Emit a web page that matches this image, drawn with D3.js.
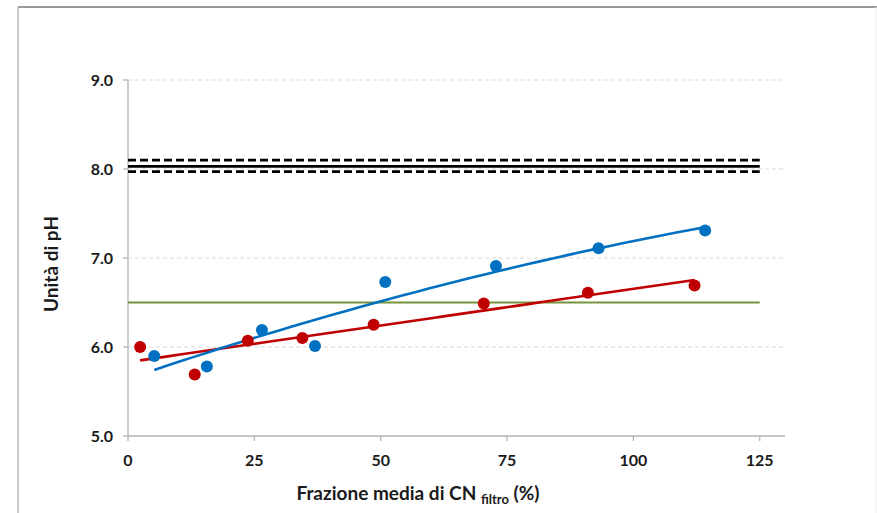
<!DOCTYPE html>
<head>
    <meta charset="utf-8">
    <title>pH vs frazione CN filtro</title>
    <script src="https://d3js.org/d3.v7.min.js"></script>
    <style>
        body{ margin: 0; background: #ffffff; }
        text{ font-family: Lato, "Open Sans", sans-serif; fill: #1a1a1a; }
        text.tickLabel{ font-size: 16px; font-weight: 700; }
        text.axisTitle{ font-size: 19px; font-weight: 700; }
        line.grid{ stroke: #d9d9d9; stroke-width: 1; stroke-dasharray: 4,3; }
        line.axisLine{ stroke: #b3b3b3; stroke-width: 1.3; }
    </style>
</head>
<body>
<script>
    // values
    var xTicks = [0, 25, 50, 75, 100, 125];
    var yTicks = [5, 6, 7, 8, 9];

    var blueX = [5.2, 15.6, 26.5, 37.0, 50.9, 72.8, 93.1, 114.2];
    var blueY = [5.90, 5.78, 6.19, 6.01, 6.73, 6.91, 7.11, 7.31];

    var redX = [2.4, 13.2, 23.7, 34.5, 48.6, 70.4, 91.0, 112.1];
    var redY = [6.00, 5.69, 6.07, 6.10, 6.25, 6.49, 6.61, 6.69];

    // horizontal reference lines (value, dashed?)
    var refValues = [8.10, 8.03, 7.97];
    var refDashed = [true, false, true];
    var greenLevel = 6.5;

    var width = 877, height = 513;

    var svg = d3.select("body").append("svg")
        .attr("width", width)
        .attr("height", height);

    // outer frame
    svg.append("line").attr("x1", 18).attr("x2", width).attr("y1", 7).attr("y2", 7)
        .style("stroke", "#9a9a9a").style("stroke-width", 2);
    svg.append("line").attr("x1", 18).attr("x2", 18).attr("y1", 7).attr("y2", height)
        .style("stroke", "#a6a6a6").style("stroke-width", 1.2);
    svg.append("line").attr("x1", 876).attr("x2", 876).attr("y1", 7).attr("y2", height)
        .style("stroke", "#ececec").style("stroke-width", 1);

    var x = d3.scaleLinear().domain([0, 130]).range([128, 785]);
    var y = d3.scaleLinear().domain([5, 9]).range([436, 80]);

    // gridlines
    svg.selectAll("line.grid")
        .data(yTicks.filter(d => d > 5))
        .enter()
        .append("line")
        .attr("class", "grid")
        .attr("x1", x(0)).attr("x2", x(130))
        .attr("y1", d => y(d)).attr("y2", d => y(d));

    // axes
    svg.append("line").attr("class", "axisLine")
        .attr("x1", x(0)).attr("x2", x(0)).attr("y1", y(9)).attr("y2", y(5));
    svg.append("line").attr("class", "axisLine")
        .attr("x1", x(0)).attr("x2", x(130)).attr("y1", y(5)).attr("y2", y(5));

    svg.selectAll("line.yTick")
        .data(yTicks).enter().append("line")
        .attr("class", "axisLine yTick")
        .attr("x1", x(0) - 5).attr("x2", x(0))
        .attr("y1", d => y(d)).attr("y2", d => y(d));

    svg.selectAll("line.xTick")
        .data(xTicks).enter().append("line")
        .attr("class", "axisLine xTick")
        .attr("x1", d => x(d)).attr("x2", d => x(d))
        .attr("y1", y(5)).attr("y2", y(5) + 5);

    svg.selectAll("text.yLab")
        .data(yTicks).enter().append("text")
        .attr("class", "tickLabel yLab")
        .attr("x", 113)
        .attr("y", d => y(d) + 6)
        .style("text-anchor", "end")
        .text(d => d3.format(".1f")(d));

    svg.selectAll("text.xLab")
        .data(xTicks).enter().append("text")
        .attr("class", "tickLabel xLab")
        .attr("x", d => x(d))
        .attr("y", 466)
        .style("text-anchor", "middle")
        .text(d => d);

    // axis titles
    var xTitle = svg.append("text")
        .attr("class", "axisTitle")
        .attr("x", 418)
        .attr("y", 500)
        .style("text-anchor", "middle");
    xTitle.append("tspan").text("Frazione media di CN ");
    xTitle.append("tspan").attr("dy", 4).style("font-size", "13px").text("filtro");
    xTitle.append("tspan").attr("dy", -4).text(" (%)");

    svg.append("text")
        .attr("class", "axisTitle")
        .attr("transform", "translate(58,264) rotate(-90)")
        .style("text-anchor", "middle")
        .text("Unità di pH");

    // reference lines around pH 8
    svg.selectAll("line.ref")
        .data(refValues).enter().append("line")
        .attr("class", "ref")
        .attr("x1", x(0)).attr("x2", x(125))
        .attr("y1", d => y(d)).attr("y2", d => y(d))
        .style("stroke", "#000000")
        .style("stroke-width", 2.6)
        .style("stroke-dasharray", (d, i) => refDashed[i] ? "8,4" : null);

    svg.append("line")
        .attr("x1", x(0)).attr("x2", x(125))
        .attr("y1", y(greenLevel)).attr("y2", y(greenLevel))
        .style("stroke", "#77933c")
        .style("stroke-width", 2.2);

    // least squares polynomial fit (like the spreadsheet trendlines)
    function polyFit(xs, ys, order) {
        var n = order + 1;
        var A = [], b = [];
        for (var r = 0; r < n; r++) {
            A.push([]);
            for (var c = 0; c < n; c++) A[r].push(d3.sum(xs, v => Math.pow(v, r + c)));
            b.push(d3.sum(xs, (v, i) => ys[i] * Math.pow(v, r)));
        }
        for (var p = 0; p < n; p++) {
            for (var r2 = p + 1; r2 < n; r2++) {
                var f = A[r2][p] / A[p][p];
                for (var c2 = p; c2 < n; c2++) A[r2][c2] -= f * A[p][c2];
                b[r2] -= f * b[p];
            }
        }
        var coef = new Array(n).fill(0);
        for (var r3 = n - 1; r3 >= 0; r3--) {
            var s = b[r3];
            for (var c3 = r3 + 1; c3 < n; c3++) s -= A[r3][c3] * coef[c3];
            coef[r3] = s / A[r3][r3];
        }
        return v => coef.reduce((acc, k, i) => acc + k * Math.pow(v, i), 0);
    }

    function trend(xs, ys, order, colour) {
        var fn = polyFit(xs, ys, order);
        var lo = d3.min(xs), hi = d3.max(xs);
        var pts = d3.range(0, 41).map(i => lo + (hi - lo) * i / 40).map(v => [v, fn(v)]);
        svg.append("path")
            .datum(pts)
            .attr("d", d3.line().x(d => x(d[0])).y(d => y(d[1])))
            .style("fill", "none")
            .style("stroke", colour)
            .style("stroke-width", 2.6);
    }

    trend(redX, redY, 1, "#c00000");
    trend(blueX, blueY, 2, "#0070c0");

    svg.selectAll("circle.red")
        .data(redX).enter().append("circle")
        .attr("class", "red")
        .attr("cx", d => x(d))
        .attr("cy", (d, i) => y(redY[i]))
        .attr("r", 6)
        .style("fill", "#c00000");

    svg.selectAll("circle.blue")
        .data(blueX).enter().append("circle")
        .attr("class", "blue")
        .attr("cx", d => x(d))
        .attr("cy", (d, i) => y(blueY[i]))
        .attr("r", 6)
        .style("fill", "#0070c0");
</script>
</body>
